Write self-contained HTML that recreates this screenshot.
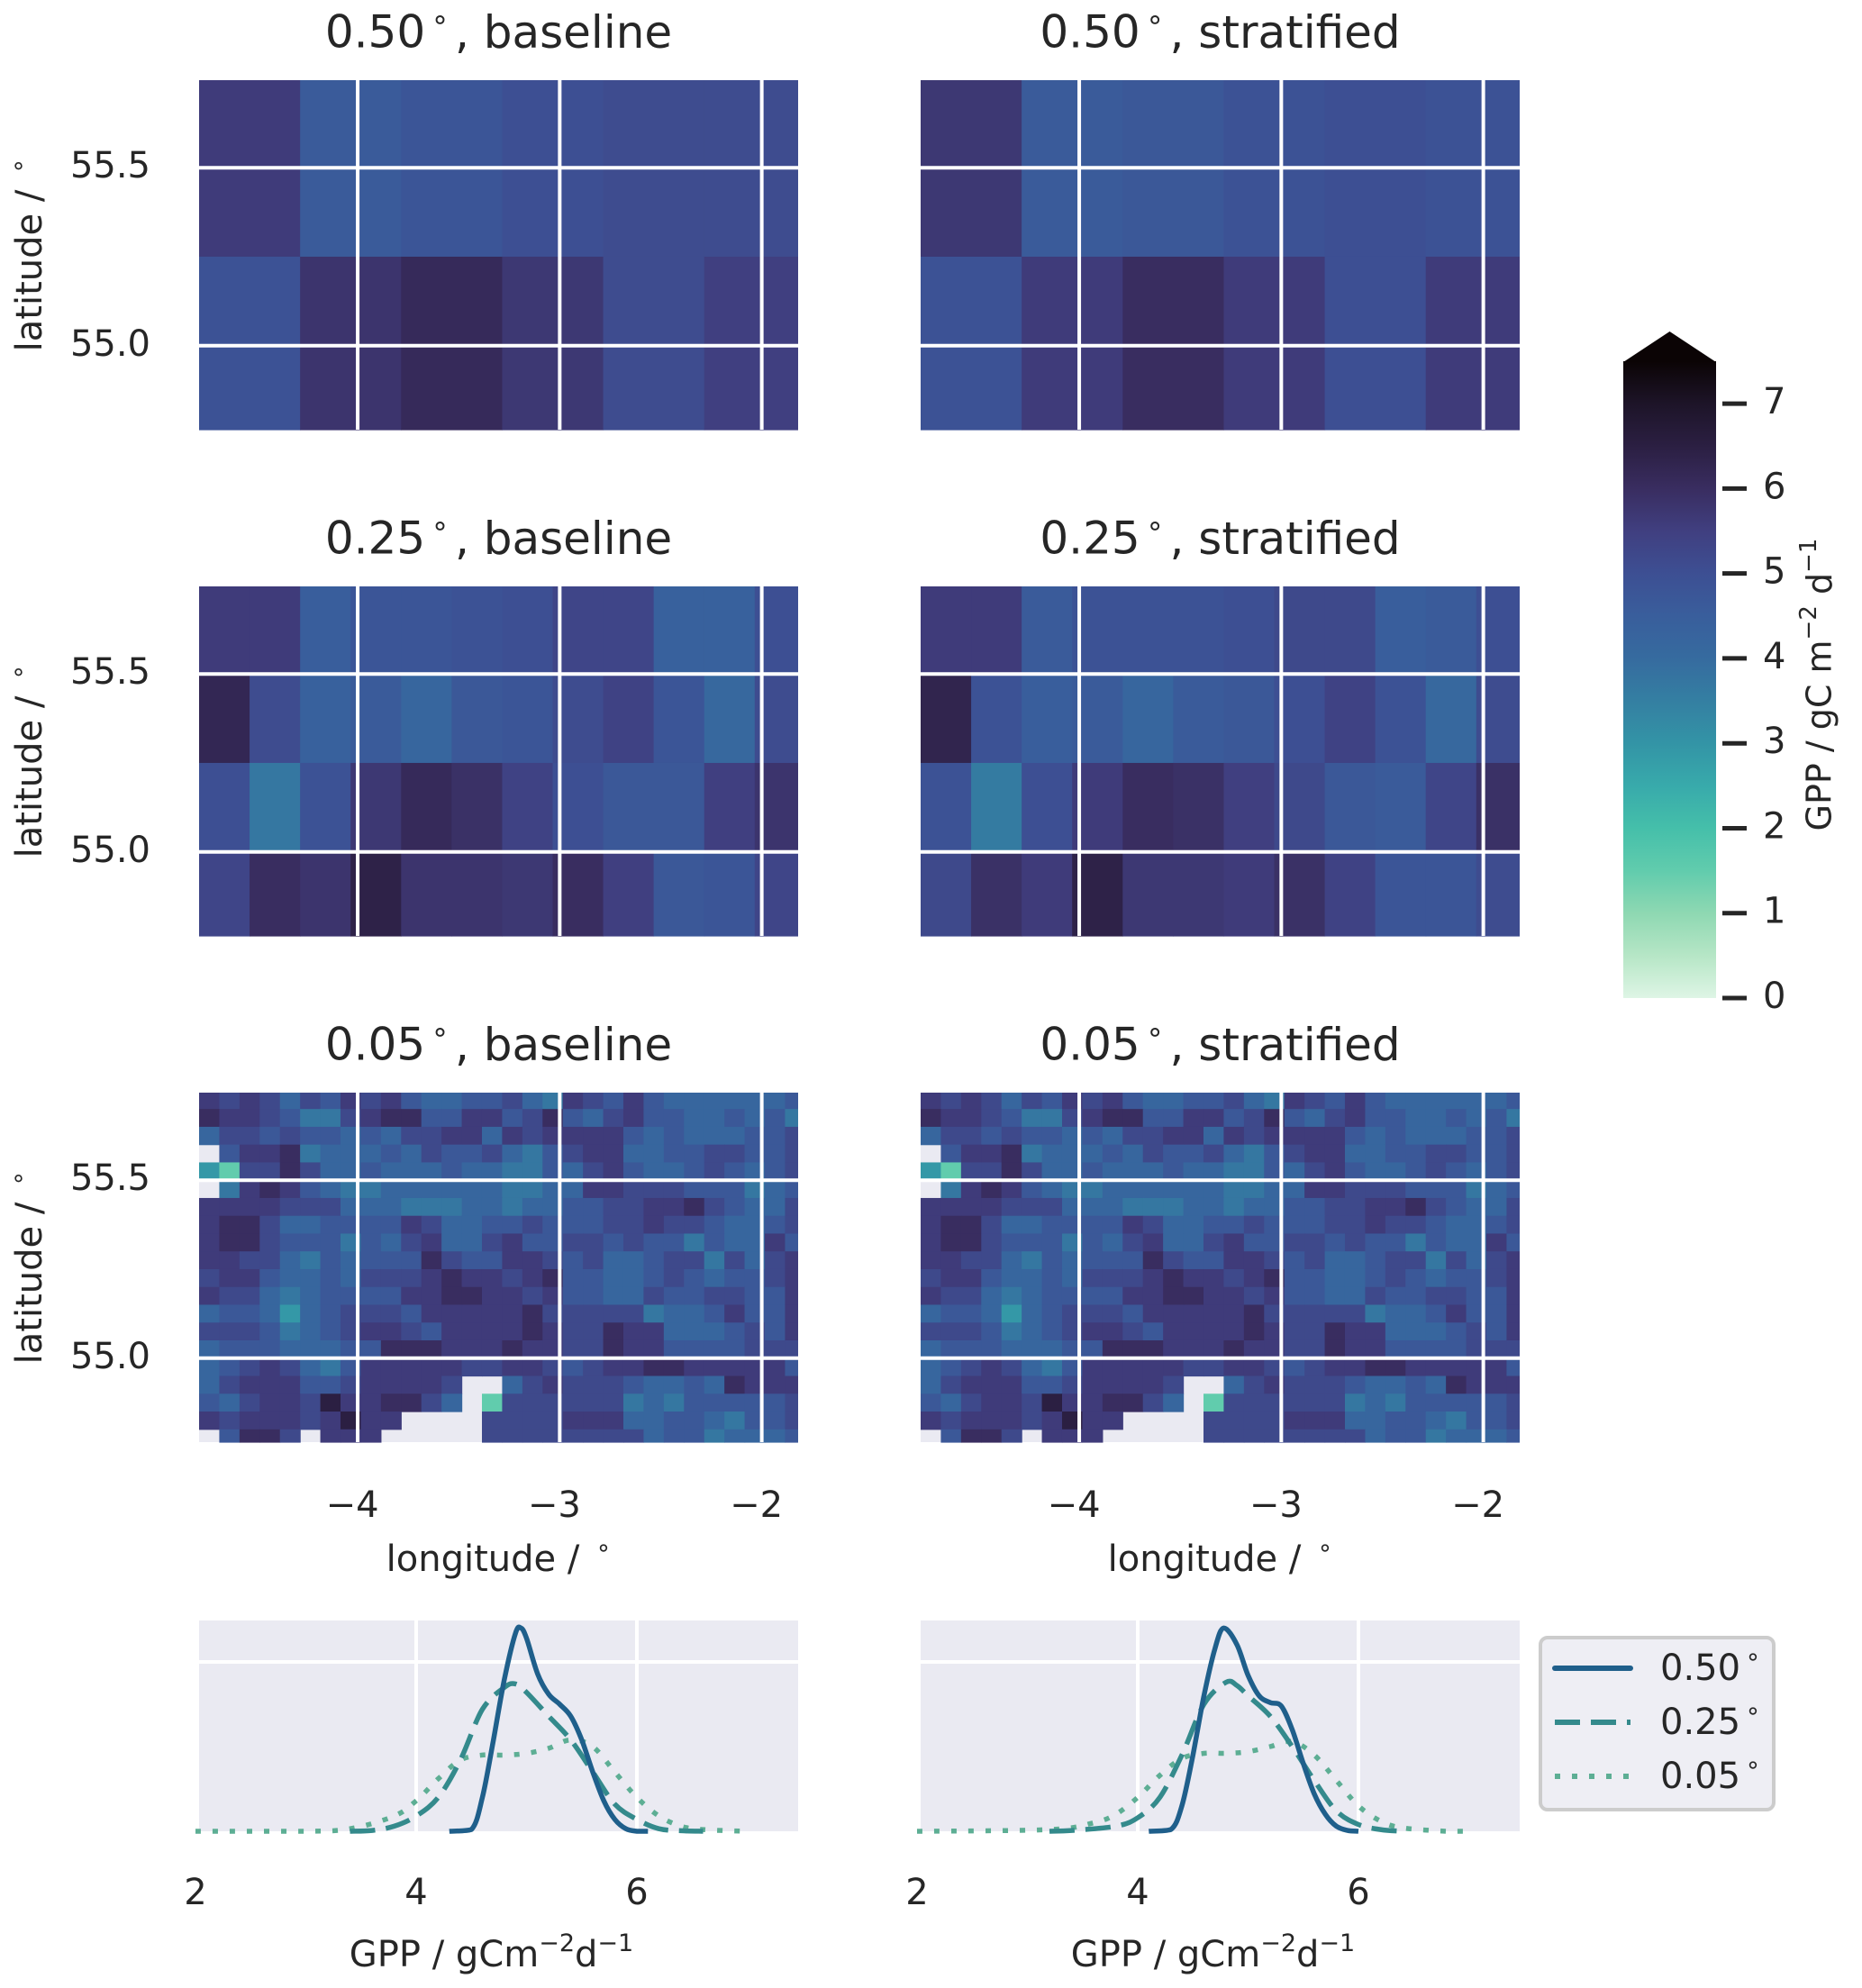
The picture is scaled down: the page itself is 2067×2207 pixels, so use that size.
<!DOCTYPE html>
<html><head><meta charset="utf-8"><style>
html,body{margin:0;padding:0;background:#fff;}
svg{display:block;font-family:"DejaVu Sans","Liberation Sans",sans-serif;}
</style></head><body>
<svg id="fig" width="2067" height="2207" viewBox="0 0 2067 2207" xmlns="http://www.w3.org/2000/svg">
<defs>
<linearGradient id="cbgrad" x1="0" y1="1" x2="0" y2="0"></linearGradient>
</defs>
</svg>
<script>
// ---------- data ----------
const lonTicks = [-4, -3, -2];
const latTicks = [55.5, 55.0];
const cbTicks = [0, 1, 2, 3, 4, 5, 6, 7];
const kdeTicks = [2, 4, 6];
const titles = ["0.50", "0.25", "0.05"];
const legendLabels = ["0.50", "0.25", "0.05"];

const base050 = [[5.6,4.6,4.8,5.0,5.1,5.1],[4.9,5.8,6.1,5.7,5.1,5.5]];
const strat050 = [[5.7,4.6,4.7,4.9,5.0,4.9],[4.9,5.6,6.0,5.6,5.0,5.6]];
const base025 = [
 [5.6,5.6,4.5,4.8,4.8,4.9,5.0,5.3,5.3,4.4,4.4,5.0],
 [6.2,5.1,4.4,4.6,4.2,4.7,4.8,5.1,5.4,4.8,4.1,5.1],
 [5.0,3.7,4.9,5.7,6.1,5.9,5.4,5.0,4.7,4.7,5.5,5.8],
 [5.3,6.0,5.8,6.4,5.8,5.8,5.7,6.0,5.5,4.7,4.8,5.3]];
const strat025 = [
 [5.6,5.6,4.6,4.9,4.9,4.9,5.0,5.2,5.2,4.5,4.6,5.0],
 [6.3,4.9,4.5,4.6,4.2,4.6,4.7,5.0,5.4,4.9,4.1,5.1],
 [4.9,3.6,5.0,5.6,6.0,5.9,5.5,5.2,4.7,4.6,5.3,5.9],
 [5.2,5.9,5.6,6.4,5.7,5.7,5.6,5.9,5.4,4.8,4.8,5.1]];
// 0.05 panels: one char per 0.1° lon x 0.05° lat block; '.' = no data; digit = class index into levels
const levels005 = [1.5, 2.9, 3.7, 4.2, 4.7, 5.2, 5.6, 6.0, 6.5];
const base005 = [
"656535465643344532654643333334.",
"766542256774466457435644334342",
"355454434355663656666434333445",
".46672333435445324566334455445",
"105575334333433224356433454345",
".26764322333333223366555444234",
"666655533322233233445566754335",
"677533444465334454445565543345",
"677544424356335644554544243364",
"665532434447544665453345525356",
"566433435556766567443345434456",
"655323444466776656443354455446",
"344313455546666675555523346446",
"555423456654666676557663334546",
"344433344777666766557664444555",
"345653246666655665456677666664",
"3566644566665..356555433437666",
"4356658667753.0555555232444445",
"6566656866....5555666334432445",
".4775.666.....5555555534423334"];
const strat005 = [
"656535465643344532654643333334.",
"766542256774466457435644334342",
"355454434355663656666434333445",
".46672333435445324566334455445",
"105575334333433224356433454345",
".26764322333333223366555444234",
"666655533322233233445566754335",
"677533444465334454445565543345",
"677544424356335644554544243364",
"665532434447544665453345525356",
"566433435556766567443345434456",
"655323444466776656443354455446",
"344313455546666675555523346446",
"555423456654666676557663334546",
"344433344777666766557664444555",
"345653246666655665456677666664",
"3566644566665..356555433437666",
"4356658667753.0555555232444445",
"6566656866....5555666334432445",
".4775.666.....5555555534423334"];

// KDE curves (x values, densities)
const kdeX_b050 = [4.3,4.5,4.6,4.7,4.8,4.9,4.95,5.0,5.1,5.2,5.3,5.4,5.5,5.6,5.7,5.8,5.9,6.0,6.1];
const kdeY_b050 = [0,0.01,0.2,0.54,0.9,1.17,1.2,1.14,0.93,0.81,0.75,0.68,0.54,0.35,0.18,0.07,0.015,0,0];
const kdeX_b025 = [3.4,3.6,3.8,4.0,4.2,4.4,4.6,4.8,4.9,5.0,5.2,5.4,5.6,5.8,6.0,6.2,6.4,6.6];
const kdeY_b025 = [0,0.005,0.03,0.09,0.2,0.42,0.72,0.85,0.87,0.82,0.68,0.54,0.35,0.16,0.07,0.015,0.003,0];
const kdeX_b005 = [2.0,3.0,3.4,3.8,4.0,4.2,4.4,4.6,4.8,5.0,5.2,5.4,5.6,5.8,6.0,6.2,6.4,6.6,7.0];
const kdeY_b005 = [0,0,0.015,0.09,0.18,0.31,0.42,0.45,0.45,0.46,0.49,0.54,0.5,0.35,0.2,0.09,0.03,0.01,0];
const kdeX_s050 = [4.1,4.3,4.4,4.5,4.6,4.7,4.78,4.9,5.0,5.1,5.2,5.3,5.4,5.5,5.6,5.7,5.8,5.9,6.0];
const kdeY_s050 = [0,0.01,0.15,0.45,0.8,1.08,1.2,1.1,0.92,0.8,0.76,0.74,0.6,0.4,0.22,0.1,0.03,0.005,0];
const kdeX_s025 = [3.2,3.4,3.8,4.0,4.2,4.4,4.6,4.8,4.9,5.0,5.2,5.4,5.6,5.8,6.0,6.2,6.4];
const kdeY_s025 = [0,0.005,0.03,0.08,0.2,0.45,0.75,0.88,0.86,0.8,0.68,0.5,0.3,0.12,0.04,0.01,0];
const kdeX_s005 = [2.0,3.2,3.6,3.8,4.0,4.2,4.4,4.6,4.8,5.0,5.2,5.4,5.6,5.8,6.0,6.2,6.4,6.8,7.0];
const kdeY_s005 = [0,0.01,0.05,0.1,0.2,0.33,0.43,0.46,0.46,0.47,0.5,0.53,0.45,0.3,0.15,0.06,0.02,0,0];

// ---------- helpers ----------
const NS = "http://www.w3.org/2000/svg";
const svg = document.getElementById("fig");
function el(tag, attrs, parent){ const e=document.createElementNS(NS,tag); for(const k in attrs) e.setAttribute(k,attrs[k]); (parent||svg).appendChild(e); return e; }

const cmapStops = [[0,"#def5e5"],[0.5,"#b6e6c6"],[1,"#8ed8b2"],[1.5,"#61ccad"],[2,"#45bfaa"],[2.5,"#38aaab"],[3,"#3394a6"],[3.5,"#347fa2"],[4,"#366b9f"],[4.5,"#395e9c"],[5,"#3d4f93"],[5.5,"#403f80"],[6,"#392d60"],[6.5,"#2b1f42"],[7,"#1d1428"],[7.5,"#0b0405"]];
function hex(c){return [1,3,5].map(i=>parseInt(c.substr(i,2),16));}
function cmap(v){
  if(v<=0) return cmapStops[0][1];
  for(let i=1;i<cmapStops.length;i++){
    if(v<=cmapStops[i][0]){
      const a=cmapStops[i-1],b=cmapStops[i];const t=(v-a[0])/(b[0]-a[0]);
      const A=hex(a[1]),B=hex(b[1]);
      return "rgb("+A.map((x,j)=>Math.round(x+(B[j]-x)*t)).join(",")+")";
    }
  }
  return cmapStops[cmapStops.length-1][1];
}

const LON0=-4.785, LON1=-1.82, LAT0=55.746, LAT1=54.764;
const PW=665, PH=388;
const colX=[221,1022];
const rowY=[89,651,1213];
function xLon(px,lon){return px+(lon-LON0)/(LON1-LON0)*PW;}
function yLat(py,lat){return py+(LAT0-lat)/(LAT0-LAT1)*PH;}

function drawHeat(px,py,grid,dlon,dlat,latTop,name){
  const g=el("g",{});
  
  
  const bg=el("rect",{x:px,y:py,width:PW,height:PH,fill:"#eaeaf2"},g);
  
  
  for(let r=0;r<grid.length;r++){
    for(let c=0;c<grid[r].length;c++){
      const v=grid[r][c]; if(v===null) continue;
      let l0=LON0+c*dlon, l1=l0+dlon; l1=Math.min(l1,LON1);
      if(l0>=LON1) continue;
      let a0=Math.min(latTop-r*dlat,LAT0), a1=Math.max(latTop-(r+1)*dlat,LAT1);
      if(a0<=a1) continue;
      const x0=xLon(px,l0),x1=xLon(px,l1),y0=yLat(py,a0),y1=yLat(py,a1);
      const rc=el("rect",{x:x0,y:y0,width:Math.min(x1-x0+0.6,px+PW-x0),height:y1-y0+0.6,fill:cmap(v)},g);
      
      
    }
  }
  for(const t of lonTicks){const x=xLon(px,t);const ln=el("line",{x1:x,x2:x,y1:py,y2:py+PH,stroke:"#fff","stroke-width":4},g);
    
    }
  for(const t of latTicks){const y=yLat(py,t);const ln=el("line",{x1:px,x2:px+PW,y1:y,y2:y,stroke:"#fff","stroke-width":4},g);
    
    }
}
function decode005(rows){return rows.map(s=>s.split("").map(ch=>ch==="."?null:levels005[+ch]));}

function title(cx,cy,res,kind){
  const t=el("text",{x:cx,y:cy,"text-anchor":"middle","font-size":50,fill:"#262626","dominant-baseline":"middle"});
  
  
  t.appendChild(document.createTextNode(res));
  const s=document.createElementNS(NS,"tspan");s.setAttribute("font-size","32");s.setAttribute("dy","-16");s.textContent="\u2009∘\u2009";t.appendChild(s);
  const s2=document.createElementNS(NS,"tspan");s2.setAttribute("dy","16");s2.textContent=", "+kind;t.appendChild(s2);
}
function txt(x,y,s,size,anchor,name,rot){
  const a={x:x,y:y,"text-anchor":anchor||"middle","font-size":size,fill:"#262626","dominant-baseline":"middle"};
  if(rot) a.transform="rotate(-90 "+x+" "+y+")";
  const t=el("text",a); t.textContent=s;
  
  
  return t;
}
function degLabel(x,y,s,name,rot){
  const t=txt(x,y,s,40,"middle",name,rot);
  const sp=document.createElementNS(NS,"tspan");sp.setAttribute("font-size","27");sp.setAttribute("dy","-14");sp.textContent="\u2009∘";t.appendChild(sp);
  return t;
}

// ---------- heatmaps ----------
const grids=[[base050,strat050,0.5,0.5,55.75],[base025,strat025,0.25,0.25,55.75],[decode005(base005),decode005(strat005),0.1,0.05,55.75]];
grids.forEach((gr,ri)=>{
  const py=rowY[ri];
  drawHeat(colX[0],py,gr[0],gr[2],gr[3],gr[4],"heatmap-"+titles[ri]+"-baseline");
  drawHeat(colX[1],py,gr[1],gr[2],gr[3],gr[4],"heatmap-"+titles[ri]+"-stratified");
  title(colX[0]+PW/2,py-50,titles[ri],"baseline");
  title(colX[1]+PW/2,py-50,titles[ri],"stratified");
  for(const t of latTicks){ txt(167,yLat(py,t),t.toFixed(1),40,"end","y-tick-label"); }
  degLabel(35,py+PH/2,"latitude / ","y-axis-title",true);
});
for(const px of colX){
  for(const t of lonTicks){ txt(xLon(px,t)-6,1673,"\u2212"+Math.abs(t),40,"middle","x-tick-label"); }
  degLabel(px+PW/2,1733,"longitude / ","x-axis-title",false);
}

// ---------- colorbar ----------
const grad=document.getElementById("cbgrad");
for(const s of cmapStops){const st=el("stop",{offset:(s[0]/7.5),"stop-color":s[1]},grad);}
const CBX=1802,CBW=103,CBTOP=401,CBBOT=1108;
function yCb(v){return CBBOT-(v/7.5)*(CBBOT-CBTOP);}
const cb=el("rect",{x:CBX,y:CBTOP,width:CBW,height:CBBOT-CBTOP,fill:"url(#cbgrad)"});


const tip=el("polygon",{points:(CBX)+","+(CBTOP+1)+" "+(CBX+CBW/2)+",368 "+(CBX+CBW)+","+(CBTOP+1),fill:"#0b0405"});


for(const t of cbTicks){
  const y=yCb(t);
  const tk=el("line",{x1:1912,x2:1939,y1:y,y2:y,stroke:"#262626","stroke-width":5});
  
  
  txt(1957,y,String(t),40,"start","colorbar-tick-label");
}
{
  const t=el("text",{x:2022,y:760,"text-anchor":"middle","font-size":38,fill:"#262626","dominant-baseline":"middle",transform:"rotate(-90 2022 760)"});
  
  
  t.appendChild(document.createTextNode("GPP / gC m"));
  const a=document.createElementNS(NS,"tspan");a.setAttribute("font-size","26");a.setAttribute("dy","-14");a.textContent="\u22122";t.appendChild(a);
  const b=document.createElementNS(NS,"tspan");b.setAttribute("dy","14");b.textContent=" d";t.appendChild(b);
  const c=document.createElementNS(NS,"tspan");c.setAttribute("font-size","26");c.setAttribute("dy","-14");c.textContent="\u22121";t.appendChild(c);
}

// ---------- KDE ----------
const KY0=1799,KY1=2033,KUNIT=188;
function xK(px,v){return px+(v-2)*122.5-4;}
function yK(d){return KY1-d*KUNIT;}
function smoothPath(P){
  let d="M"+P[0][0].toFixed(1)+","+P[0][1].toFixed(1);
  for(let i=0;i<P.length-1;i++){
    const p0=P[Math.max(0,i-1)],p1=P[i],p2=P[i+1],p3=P[Math.min(P.length-1,i+2)];
    const c1=[p1[0]+(p2[0]-p0[0])/6,p1[1]+(p2[1]-p0[1])/6];
    const c2=[p2[0]-(p3[0]-p1[0])/6,p2[1]-(p3[1]-p1[1])/6];
    c1[1]=Math.min(c1[1],KY1);c2[1]=Math.min(c2[1],KY1);
    d+=" C"+c1[0].toFixed(1)+","+c1[1].toFixed(1)+" "+c2[0].toFixed(1)+","+c2[1].toFixed(1)+" "+p2[0].toFixed(1)+","+p2[1].toFixed(1);
  }
  return d;
}
const styles=[{c:"#1f5f8b",d:"none"},{c:"#348a8c",d:"28,12"},{c:"#5dae94",d:"6,13"}];
const kdeSets=[[[kdeX_b050,kdeY_b050],[kdeX_b025,kdeY_b025],[kdeX_b005,kdeY_b005]],[[kdeX_s050,kdeY_s050],[kdeX_s025,kdeY_s025],[kdeX_s005,kdeY_s005]]];
colX.forEach((px,pi)=>{
  const bg=el("rect",{x:px,y:KY0,width:PW,height:KY1-KY0,fill:"#eaeaf2"});
  
  
  for(const t of kdeTicks){const x=xK(px,t); if(x<px+2) continue; const ln=el("line",{x1:x,x2:x,y1:KY0,y2:KY1,stroke:"#fff","stroke-width":4});
    
    }
  const hl=el("line",{x1:px,x2:px+PW,y1:yK(1),y2:yK(1),stroke:"#fff","stroke-width":4});
  
  
  for(let s=2;s>=0;s--){
    const [xs,ys]=kdeSets[pi][s];
    const P=xs.map((x,i)=>[xK(px,x),yK(ys[i])]);
    const pl=el("path",{d:smoothPath(P),fill:"none",stroke:styles[s].c,"stroke-width":5.5,"stroke-dasharray":styles[s].d,"stroke-linejoin":"round"});
    
    
  }
  for(const t of kdeTicks){ txt(xK(px,t),2103,String(t),40,"middle","kde-x-tick-label"); }
  const t=el("text",{x:px+PW/2-8,y:2172,"text-anchor":"middle","font-size":40,fill:"#262626","dominant-baseline":"middle"});
  
  
  t.appendChild(document.createTextNode("GPP / gCm"));
  const a=document.createElementNS(NS,"tspan");a.setAttribute("font-size","27");a.setAttribute("dy","-14");a.textContent="\u22122";t.appendChild(a);
  const b=document.createElementNS(NS,"tspan");b.setAttribute("dy","14");b.textContent="d";t.appendChild(b);
  const c=document.createElementNS(NS,"tspan");c.setAttribute("font-size","27");c.setAttribute("dy","-14");c.textContent="\u22121";t.appendChild(c);
});

// ---------- legend ----------
const lg=el("rect",{x:1710,y:1818,width:259,height:191,rx:8,fill:"#eeeef4",stroke:"#cccccc","stroke-width":4});


legendLabels.forEach((lab,i)=>{
  const y=1852+i*60;
  const ln=el("line",{x1:1726,x2:1810,y1:y,y2:y,stroke:styles[i].c,"stroke-width":6,"stroke-dasharray":styles[i].d,"stroke-linecap":i===0?"round":"butt"});
  
  
  const t=el("text",{x:1843,y:y+2,"font-size":40,fill:"#262626","dominant-baseline":"middle"});
  
  
  t.appendChild(document.createTextNode(lab));
  const s=document.createElementNS(NS,"tspan");s.setAttribute("font-size","27");s.setAttribute("dy","-14");s.textContent="\u2009∘";t.appendChild(s);
});
</script>
</body></html>
